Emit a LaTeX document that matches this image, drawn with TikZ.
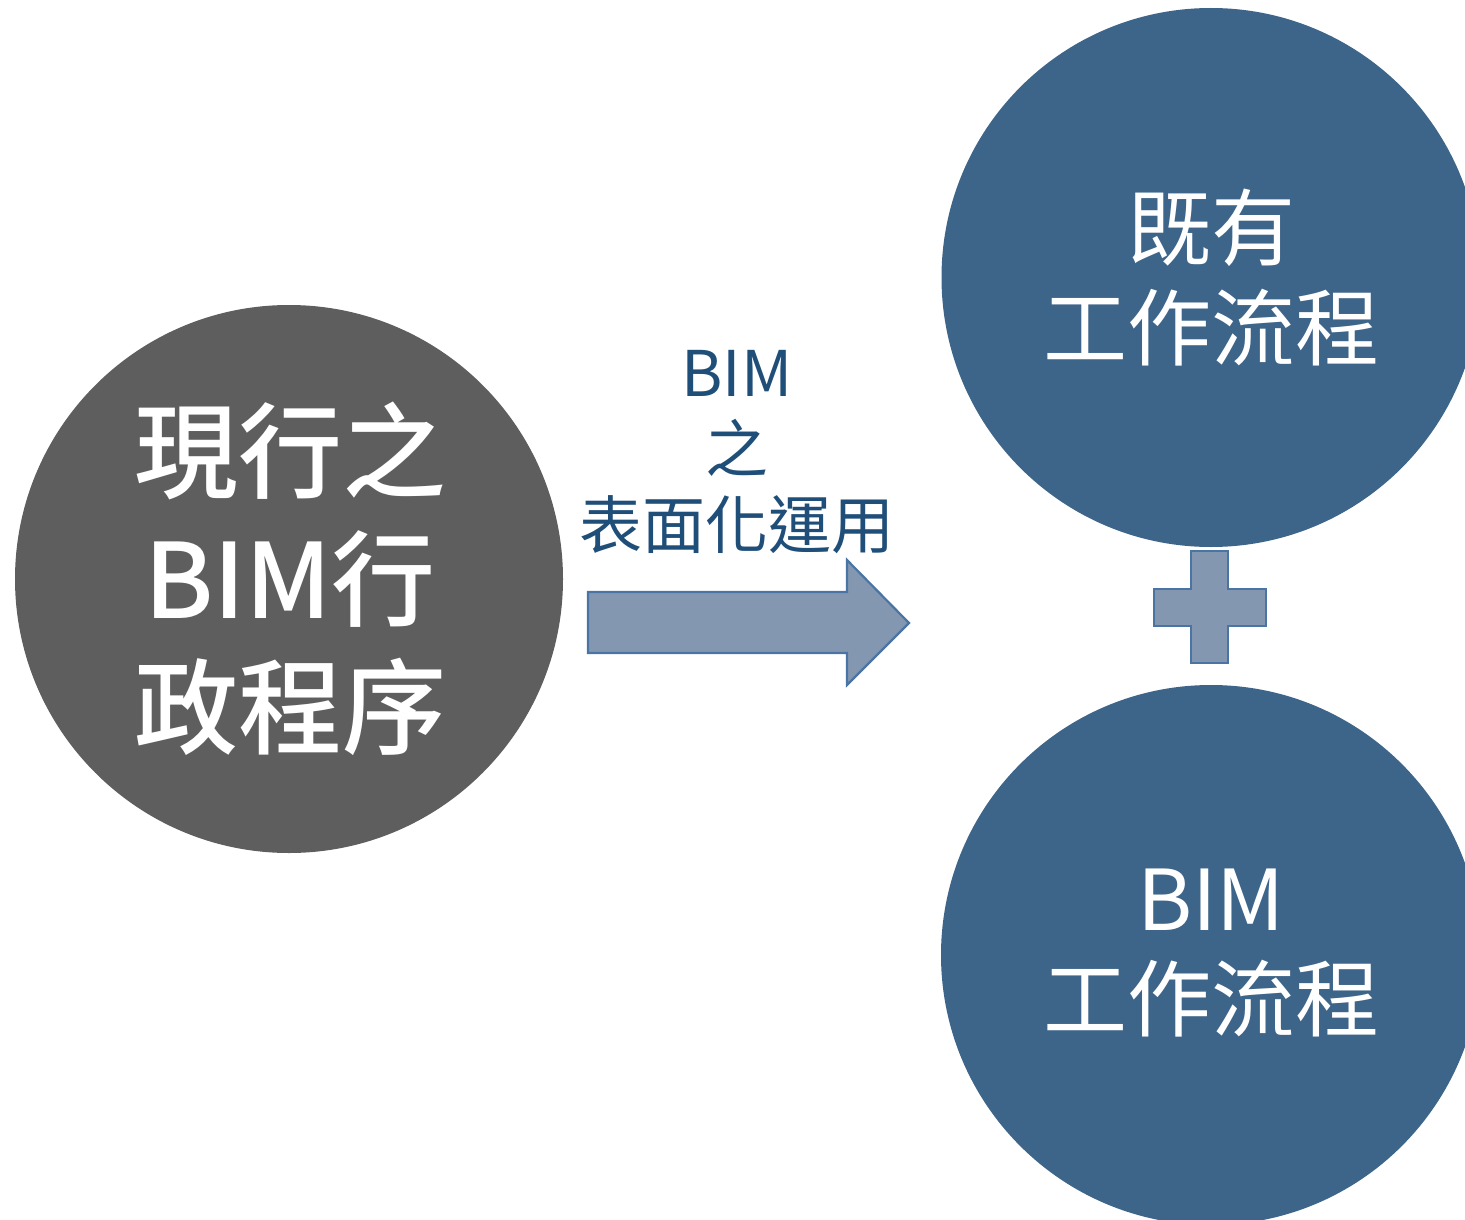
\documentclass[tikz,border=0pt]{standalone}
\usepackage{fontspec}
\newfontfamily\cjk{Noto Sans CJK TC}
\newfontfamily\cjkbold{Noto Sans CJK TC Medium}
\definecolor{greyc}{HTML}{5E5E5E}
\definecolor{bluec}{HTML}{3D6489}
\definecolor{arrowfill}{HTML}{8497B0}
\definecolor{arrowline}{HTML}{4A74A3}
\definecolor{textblue}{HTML}{1F4E79}
\begin{document}
\begin{tikzpicture}[x=1pt,y=-1pt,
  bigcircle/.style={circle,inner sep=0pt,draw=none},
  lefttext/.style={text=white,align=center,font=\cjkbold\fontsize{104}{128}\selectfont},
  righttext/.style={text=white,align=center,font=\cjk\fontsize{84}{100}\selectfont},
  midtext/.style={text=textblue,align=center,font=\cjk\fontsize{63}{76}\selectfont},
  shapeline/.style={fill=arrowfill,draw=arrowline,line width=2.2pt,line join=miter}]
\useasboundingbox (0,0) rectangle (1465,1220);
\clip (0,0) rectangle (1465,1220);
% circles
\node[bigcircle,fill=greyc,minimum size=548pt] (left) at (289,579) {};
\node[bigcircle,fill=bluec,minimum size=539pt] (top) at (1211,277.5) {};
\node[bigcircle,fill=bluec,minimum size=540pt] (bottom) at (1211,955) {};
% texts
\node[lefttext] (lefttxt) at (290,579) {現行之\\BIM行\\政程序};
\node[righttext] (toptxt) at (top.center) {既有\\工作流程};
\node[righttext] (bottomtxt) at (1211,953) {BIM\\工作流程};
\node[midtext] (midtxt) at (737,452) {BIM\\之\\表面化運用};
% arrow
\draw[shapeline] (588,592) -- (847,592) -- (847,560) -- (909,623) -- (847,685) -- (847,653) -- (588,653) -- cycle;
% plus
\draw[shapeline] (1191,551) -- (1228,551) -- (1228,589) -- (1266,589) -- (1266,626) -- (1228,626) -- (1228,663) -- (1191,663) -- (1191,626) -- (1154,626) -- (1154,589) -- (1191,589) -- cycle;
\end{tikzpicture}
\end{document}
